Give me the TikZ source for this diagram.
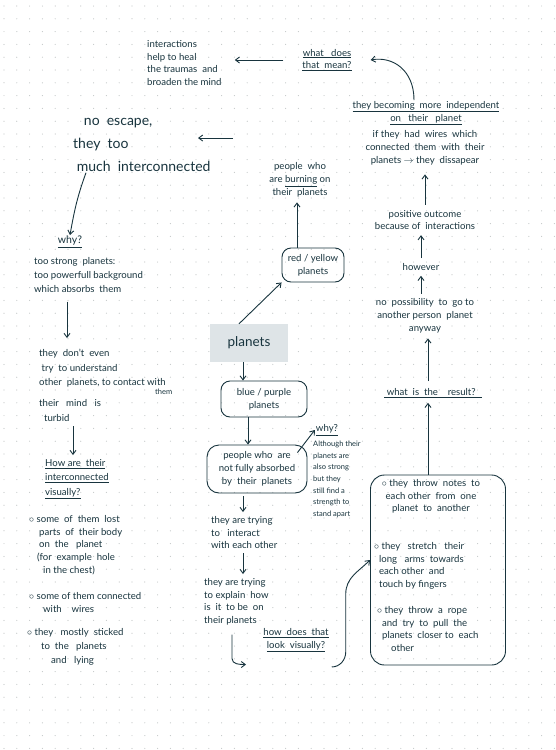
\documentclass[tikz,border=0pt]{standalone}
\usepackage{fontspec}
\setmainfont{Lato}
\usetikzlibrary{arrows.meta}
\definecolor{ink}{HTML}{18343E}
\definecolor{dotc}{HTML}{C4C8C8}
\definecolor{pfill}{HTML}{DEE4E7}
\begin{document}
\begin{tikzpicture}[x=1pt,y=-1pt,
  txt/.style={text=ink,font=\fontsize{9.6}{12.8}\selectfont,inner sep=1pt},
  small/.style={text=ink,font=\fontsize{7.5}{11.6}\selectfont,inner sep=1pt},
  rbox/.style={draw=ink,line width=0.9pt,rounded corners=9pt,inner sep=3pt},
  arr/.style={draw=ink,line width=0.9pt,-{Straight Barb[length=4pt,width=6pt]}},
  ln/.style={draw=ink,line width=0.9pt}]
\useasboundingbox (0,0) rectangle (556,750);
\fill[white] (0,0) rectangle (556,750);
\foreach \i in {0,...,43} \foreach \j in {0,...,58} \fill[dotc] (4+12.8*\i, 6+12.8*\j) circle (0.6);

% top area
\node[txt,anchor=north west,align=left] (inter) at (146,39) {interactions\\help to heal\\the traumas\ \ and\\broaden the mind};
\node[txt,align=center] (mean) at (327,60) {\underline{what\ \ \ does}\\\underline{that\ \ mean?}};
\draw[arr,shorten <=18pt,shorten >=12pt] (mean.west) -- (mean.west -| inter.east);

\node[txt,align=center] (indep) at (426,113) {\underline{they becoming\ \ more\ \ independent}\\\underline{on\ \ \ their\ \ \ planet}};
\draw[arr] ([xshift=-12pt]indep.north) .. controls +(0,-30) and +(22,-4) .. ([xshift=18pt]mean.east);
\node[txt,align=center] (wires) at (425,148) {if they\ \ had\ \ wires\ \ which\\connected\ \ them\ \ with\ \ their\\planets $\rightarrow$ they\ \ dissapear};
\node[txt,align=center] (positive) at (425,220) {positive outcome\\because of\ \ interactions};
\draw[arr,shorten <=4pt,shorten >=8pt] (positive.north) -- (positive.north |- wires.south);
\node[txt] (however) at (421,267) {however};
\draw[arr,shorten <=4pt,shorten >=4pt] (however.north) -- (however.north |- positive.south);
\node[txt,align=center] (noposs) at (425,316) {no\ \ possibility\ \ to\ \ go to\\another person\ \ planet\\anyway};
\draw[arr,shorten <=4pt,shorten >=4pt] (noposs.north -| however.north) -- (however.south);
\node[txt] (result) at (433,393) {\underline{\ what\ \ is\ \ the\ \ \ \ result?\hspace*{6pt}}};
\draw[arr,shorten <=6pt,shorten >=4pt] ([xshift=-5pt]result.north) -- ([xshift=-5pt]result.north |- noposs.south);

% result box
\node[rbox,minimum width=135pt,minimum height=190pt,rounded corners=14pt] (resbox) at (438,570) {};
\node[txt,align=center,anchor=north] (b1) at (431,478) {$\circ$ they\ \ throw\ \ notes\ \ to\\each other\ \ from\ \ one\\planet\ \ to\ \ another};
\node[txt,align=left,anchor=north west] (b2) at (373,541) {$\circ$ they\ \ \ stretch\ \ \ their\\\ \ long\ \ \ arms\ \ towards\\\ \ each other\ \ and\\\ \ touch by fingers};
\node[txt,align=left,anchor=north west] (b3) at (376,605) {$\circ$ they\ \ throw\ \ a\ \ rope\\\ \ and\ \ try\ \ to\ \ pull\ \ the\\\ \ planets\ \ closer to\ \ each\\\hspace*{14pt}other};
\draw[arr,shorten <=0pt,shorten >=4pt] ([xshift=-10pt]resbox.north) -- ([xshift=-10pt]resbox.north |- result.south);

\node[txt,align=center] (howlook) at (296,640) {\underline{how\ \ does\ \ that}\\\underline{look\ \ visually?}};
\draw[arr] ([xshift=2pt,yshift=-14pt]howlook.south east) to[out=0,in=-90] ++(14,-15) -- ++(0,-58) to[out=90,in=-135] ([yshift=10pt]resbox.west);

% center column
\node[fill=pfill,minimum width=78pt,minimum height=38pt,text=ink,font=\fontsize{13.5}{15}\selectfont] (planets) at (249,343) {planets};
\node[txt,rbox,align=center,minimum width=62pt,minimum height=34pt] (red) at (313,265) {red / yellow\\planets};
\draw[arr] ([xshift=-10pt]planets.north) -- (red.south west);
\node[txt,align=center] (burning) at (300,180) {people\ \ who\\are \underline{burning} on\\their\ \ planets};
\draw[arr,shorten >=4pt] ([xshift=-16pt]red.north) -- ([xshift=-16pt]red.north |- burning.south);
\coordinate (ar1s) at (233,138);
\coordinate (ar1e) at (198,138);
\draw[arr] (ar1s) -- (ar1e);

\node[txt,rbox,align=center,minimum width=86pt,minimum height=36pt] (blue) at (264,399) {blue / purple\\planets};
\draw[arr] ([xshift=-6pt]planets.south) -- ([xshift=-6pt]planets.south |- blue.north);
\node[txt,rbox,align=center,minimum width=100pt,minimum height=48pt,rounded corners=12pt] (people) at (257,469) {people who\ \ are\\not fully absorbed\\by\ \ their\ \ planets};
\draw[arr] ([xshift=-16pt]blue.south) -- ([xshift=-16pt]blue.south |- people.north);
\node[txt] (why2) at (327,430) {\underline{why?}};
\node[small,align=left,anchor=north west] (although) at (312,440) {Although their\\planets are\\also strong\\but they\\still find a\\strength to\\stand apart};
\draw[arr] ([xshift=-10pt,yshift=-8pt]people.north east) -- (why2.west);
\node[txt,align=left,anchor=north west] (interact) at (210,515) {they are trying\\to\ \ \ interact\\with each other};
\draw[arr,shorten <=3pt,shorten >=3pt] ([xshift=-14pt]people.south) -- ([xshift=-14pt]people.south |- interact.north);
\node[txt,align=left,anchor=north west] (explain) at (203,577) {they are trying\\to explain\ \ how\\is\ \ it\ \ to be\ \ on\\their planets};
\draw[arr,shorten <=3pt,shorten >=3pt] ([xshift=33pt]interact.south west) -- ([xshift=33pt]interact.south west |- explain.north);
\draw[arr] ([xshift=29pt,yshift=-8pt]explain.south west) -- ++(0,24) to[out=-90,in=180] ++(14,6);

% left column
\node[text=ink,font=\fontsize{14}{23}\selectfont,inner sep=1pt,align=left,anchor=north west] (noescape) at (72,117) {\ \ \ no\ \ escape,\\they\ \ too\\\ much\ \ interconnected};
\node[text=ink,font=\fontsize{10.5}{12}\selectfont,inner sep=1pt] (why1) at (70,242) {\underline{why?}};
\draw[arr] ([xshift=14pt]noescape.south west) to[out=-110,in=80] (why1.north);
\node[txt,align=left,anchor=north west,font=\fontsize{9.6}{14}\selectfont] (strong) at (33,256) {too strong\ \ planets:\\too powerfull background\\which absorbs\ \ them};
\node[txt,align=left,anchor=north west,font=\fontsize{9.6}{14.5}\selectfont] (dont) at (38,348) {they\ \ don't\ \ even\\\ try\ \ to understand\\other\ \ planets, to contact with\\[-6pt]\hspace*{116pt}{\fontsize{7.5}{8}\selectfont them}\\[-2pt]their\ \ \ mind\ \ \ is\\\ \ turbid};
\draw[arr,shorten <=8pt,shorten >=10pt] ([xshift=34pt]strong.south west) -- ([xshift=34pt]strong.south west |- dont.north);
\node[txt,align=left,anchor=north west,font=\fontsize{9.6}{14.5}\selectfont] (howare) at (44,458) {\underline{How are\ \ their}\\\underline{interconnected}\\\underline{visually?}};
\draw[arr,shorten <=4pt,shorten >=3pt] ([xshift=35pt]dont.south west) -- ([xshift=35pt]dont.south west |- howare.north);
\node[txt,align=left,anchor=north west] (lb1) at (28,514) {$\circ$ some\ \ of\ \ them\ \ lost\\\hspace*{10pt}parts\ \ of\ \ their body\\\hspace*{10pt}on\ \ the\ \ \ planet\\\hspace*{8pt}(for\ \ example\ \ hole\\\hspace*{14pt}in the chest)};
\node[txt,align=left,anchor=north west] (lb2) at (28,591) {$\circ$ some of them connected\\\hspace*{14pt}with\ \ \ \ wires};
\node[txt,align=left,anchor=north west,font=\fontsize{9.6}{14}\selectfont] (lb3) at (26,627) {$\circ$ they\ \ \ mostly\ \ sticked\\\hspace*{14pt}to\ \ the\ \ \ planets\\\hspace*{24pt}and\ \ \ lying};
\end{tikzpicture}
\end{document}
